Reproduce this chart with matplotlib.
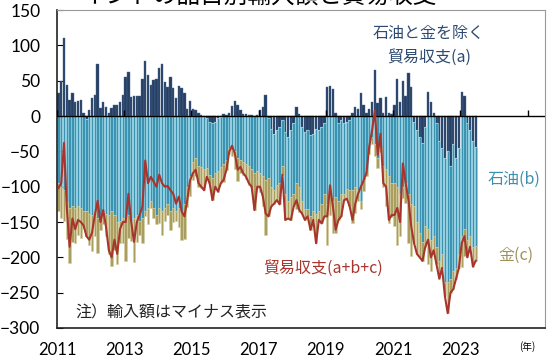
import numpy as np
import matplotlib.pyplot as plt

plt.rcParams['font.family'] = ['Noto Sans CJK JP', 'DejaVu Sans']

# monthly, Jan 2011 - Jun 2023 (imports negative)
# (a) balance excluding oil and gold
bal_ex = [33, 49, 110, 44, 23, 33, 20, 21, 23, 4, -4, 8,
          26, 30, 74, 11, 20, 13, 5, 12, 15, 15, 20, 30,
          55, 62, 27, 28, 28, 28, 52, 78, 58, 44, 51, 53,
          68, 73, 48, 41, 56, 40, 25, 43, 40, 32, 10, 22,
          10, 9, 5, 2, 0, -3, -8, -10, -8, -3, -2, 3,
          1, 4, 14, 22, 16, 8, 3, 3, 2, 1, 0, 2,
          8, 13, 30, -3, -18, -25, -20, -15, -5, -22, -30, -20,
          -10, 13, 3, -15, -22, -20, -27, -25, -18, -20, -15, -10,
          41, 42, 38, 5, -10, -5, -10, -8, -5, 5, 13, 10,
          32, 15, 5, 10, 20, 65, 19, 26, 5, 27, 5, 3,
          15, 52, 20, 49, 28, 61, 41, -8, -20, -30, -38, -15,
          34, 20, 5, -10, -35, -45, -60, -50, -70, -40, -60, -45,
          34, 28, -10, -20, -35, -44]
# (b) oil
oil = [-95, -100, -105, -122, -130, -128, -130, -128, -130, -135, -130, -138,
       -140, -135, -145, -140, -135, -138, -140, -135, -140, -150, -148, -145,
       -145, -140, -150, -145, -140, -148, -145, -135, -130, -120, -130, -140,
       -130, -135, -130, -125, -135, -130, -135, -130, -135, -125, -100, -85,
       -65, -60, -70, -72, -75, -70, -75, -78, -72, -75, -70, -68,
       -62, -45, -48, -50, -60, -62, -65, -68, -70, -75, -80, -78,
       -80, -85, -90, -85, -82, -80, -78, -80, -65, -88, -90, -95,
       -100, -95, -100, -105, -110, -112, -115, -110, -120, -115, -110, -100,
       -125, -105, -120, -115, -110, -105, -100, -95, -100, -105, -100, -105,
       -120, -90, -75, -45, -30, -40, -60, -45, -70, -75, -85, -95,
       -95, -100, -110, -100, -95, -110, -125, -120, -130, -135, -140, -140,
       -160, -175, -170, -175, -170, -150, -175, -185, -160, -180, -155, -150,
       -170, -160, -165, -150, -150, -140]
# (c) gold
gold = [-40, -44, -43, -52, -78, -50, -50, -40, -43, -24, -36, -45,
        -51, -35, -49, -21, -18, -32, -55, -77, -50, -60, -32, -35,
        -60, -32, -27, -61, -38, -20, -35, -6, -23, -10, -14, -13,
        -21, -33, -18, -15, -26, -20, -14, -27, -40, -49, -29, -28,
        -26, -25, -30, -30, -30, -13, -12, -31, -20, -29, -23, -25,
        -15, -9, -8, -25, -32, -18, -19, -21, -27, -26, -53, -24,
        -28, -42, -78, -54, -28, -19, -21, -30, -13, -37, -25, -32,
        -18, -37, -36, -18, -15, -10, -19, -12, -42, -12, -27, -32,
        -58, -35, -46, -51, -27, -32, -9, -14, -23, -47, -37, -15,
        -12, -16, -10, -8, -10, -17, -14, -6, -30, -52, -67, -48,
        -60, -82, -60, -16, -28, -70, -73, -52, -45, -35, -27, -30,
        -49, -45, -25, -25, -25, -20, -20, -44, -20, -25, -15, -20,
        -44, -38, -25, -15, -28, -21]

bal_ex = np.array(bal_ex, dtype=float)
oil = np.array(oil, dtype=float)
gold = np.array(gold, dtype=float)
total = bal_ex + oil + gold

months = np.arange(len(bal_ex))
x = 2011 + (months + 0.5) / 12
w = 0.85 / 12

NAVY = '#263f63'
TEAL = '#3b93b1'
GOLD = '#a99d60'
RED = '#a8352d'

fig = plt.figure(figsize=(5.52, 3.58), dpi=100)
ax = fig.add_axes([0.1033, 0.0838, 0.884, 0.888])

neg = np.minimum(bal_ex, 0)
ax.bar(x, bal_ex, width=w, color=NAVY, edgecolor='#4d6a8f', linewidth=0.3, zorder=2)
ax.bar(x, oil, width=w, bottom=neg, color=TEAL, edgecolor='#8fd2e3', linewidth=0.4, zorder=2)
ax.bar(x, gold, width=w, bottom=neg + oil, color=GOLD, edgecolor='#d8d09c', linewidth=0.4, zorder=2)
ax.plot(x, total, color=RED, linewidth=1.5, zorder=4)

ax.axhline(0, color='black', linewidth=1.0, zorder=3)
years = np.arange(2011, 2026, 2)
ax.vlines(years, 0, 8, color='black', linewidth=1.0, zorder=3)

ax.set_xlim(2011, 2025.52)
ax.set_ylim(-300, 150)
ax.set_yticks(np.arange(-300, 151, 50))
ax.set_xticks(years[:-1])
ax.set_xticklabels([str(y) for y in years[:-1]], family='Lato')
for lab in ax.get_yticklabels():
    lab.set_family('Lato')
ax.tick_params(axis='x', length=0, pad=10, labelsize=12)
ax.tick_params(axis='y', direction='in', length=4, pad=12, labelsize=12.5)

for side in ['left', 'bottom']:
    ax.spines[side].set_color('#222222')
    ax.spines[side].set_linewidth(1.2)
for side in ['top', 'right']:
    ax.spines[side].set_color('#999999')
    ax.spines[side].set_linewidth(0.8)

ax.text(2022.07, 100, '石油と金を除く\n貿易収支(a)', color='#2e4a70', fontsize=11.5,
        ha='center', va='center', linespacing=1.5)
ax.text(2024.6, -90, '石油(b)', color='#3b8fb0', fontsize=11.5, ha='center', va='center')
ax.text(2024.66, -197, '金(c)', color='#9e925a', fontsize=11.5, ha='center', va='center')
ax.text(2018.92, -215, '貿易収支(a+b+c)', color=RED, fontsize=11.5, ha='center', va='center')
ax.text(2011.54, -279, '注）輸入額はマイナス表示', color='#222222', fontsize=11.5,
        ha='left', va='center')
fig.text(0.955, 0.033, '(年)', fontsize=7, ha='center', va='center')

fig.text(0.47, 1 - 3 / 358, 'インドの品目別輸入額と貿易収支', fontsize=17,
         ha='center', va='baseline')

fig.savefig('out.png', dpi=100)
